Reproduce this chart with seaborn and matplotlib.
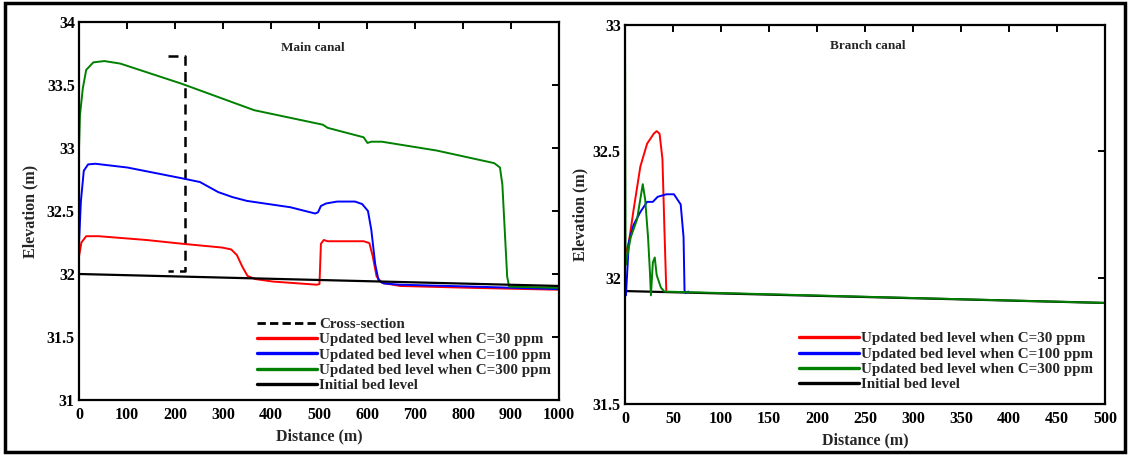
import numpy as np
import pandas as pd
import matplotlib
matplotlib.use("Agg")
import matplotlib.pyplot as plt
from matplotlib.patches import Rectangle
from matplotlib.lines import Line2D
import seaborn as sns

# ---------------- data: main canal ----------------
main_bed_x = [0, 1000]
main_bed_y = [32.0, 31.905]

main_c30_x = [0, 5, 15, 41, 140, 215, 298, 317, 329, 340, 351, 367, 404, 495, 501, 504, 510, 518,
              593, 605, 612, 620, 631, 669, 820, 1000]
main_c30_y = [32.14, 32.25, 32.30, 32.30, 32.27, 32.24, 32.21, 32.195, 32.15, 32.06, 31.985, 31.96,
              31.94, 31.915, 31.92, 32.24, 32.27, 32.26, 32.26, 32.245, 32.14, 31.98, 31.93, 31.905,
              31.89, 31.875]

main_c100_x = [0, 4, 10, 19, 34, 101, 214, 252, 290, 320, 350, 440, 492, 498, 504, 515, 538, 575,
               590, 602, 609, 617, 624, 635, 669, 820, 1000]
main_c100_y = [32.25, 32.58, 32.82, 32.87, 32.875, 32.845, 32.76, 32.73, 32.65, 32.61, 32.58, 32.53,
               32.48, 32.49, 32.54, 32.56, 32.575, 32.575, 32.555, 32.50, 32.35, 32.08, 31.95,
               31.925, 31.915, 31.90, 31.88]

main_c300_x = [0, 2, 8, 15, 30, 53, 86, 214, 365, 508, 518, 593, 601, 609, 631, 745, 865, 877, 882,
               887, 892, 896, 1000]
main_c300_y = [33.0, 33.26, 33.475, 33.62, 33.68, 33.69, 33.67, 33.51, 33.30, 33.185, 33.16, 33.085,
               33.04, 33.05, 33.05, 32.98, 32.88, 32.845, 32.71, 32.345, 31.98, 31.90, 31.89]

cross_x = [185, 220, 220, 185]
cross_y = [33.73, 33.73, 32.02, 32.02]

# ---------------- data: branch canal ----------------
br_bed_x = [0, 500]
br_bed_y = [31.947, 31.90]

br_c30_x = [1, 4, 9, 16, 23, 30, 33, 36, 39, 41, 43]
br_c30_y = [32.10, 32.14, 32.27, 32.44, 32.53, 32.57, 32.58, 32.57, 32.47, 32.20, 31.95]

br_c100_x = [0.5, 1, 4, 9, 16, 23, 29, 34, 43, 51, 58, 61, 62, 63, 66]
br_c100_y = [31.93, 31.93, 32.14, 32.21, 32.26, 32.30, 32.30, 32.32, 32.33, 32.33, 32.29, 32.16,
             31.95, 31.94, 31.945]

br_c300_x = [0, 0.6, 2.5, 6, 12.5, 18.5, 21, 24, 26, 27, 29, 31, 33, 37.5, 41, 500]
br_c300_y = [33.0, 32.05, 32.09, 32.16, 32.23, 32.37, 32.31, 32.16, 32.02, 31.93, 32.06, 32.08,
             32.01, 31.96, 31.945, 31.90]

labels = ["Cross-section", "Updated bed level when C=30 ppm", "Updated bed level when C=100 ppm",
          "Updated bed level when C=300 ppm", "Initial bed level"]

# ---------------- style ----------------
sns.set_theme(style="white")
plt.rcParams["font.family"] = ["Liberation Serif", "DejaVu Serif"]
plt.rcParams["font.weight"] = "bold"
plt.rcParams["axes.labelweight"] = "bold"

RED, BLUE, GREEN, BLACK = "#ff0000", "#0000ff", "#008000", "#000000"

fig = plt.figure(figsize=(11.3, 4.55), dpi=100)
fig.patch.set_facecolor("white")
ax1 = fig.add_axes([79 / 1130, 1 - 400 / 455, 480 / 1130, 378 / 455])
ax2 = fig.add_axes([625 / 1130, 1 - 404 / 455, 480 / 1130, 379 / 455])


def draw(ax, x, y, color, label, lw=1.4, ls="-", z=2):
    df = pd.DataFrame({"x": x, "y": y})
    sns.lineplot(data=df, x="x", y="y", ax=ax, color=color, lw=lw, ls=ls, sort=False,
                 estimator=None, label=label, zorder=z, legend=False)


# main canal
draw(ax1, cross_x, cross_y, BLACK, labels[0], lw=1.8, ls=(0, (4, 2.5)))
draw(ax1, main_c30_x, main_c30_y, RED, labels[1])
draw(ax1, main_c100_x, main_c100_y, BLUE, labels[2])
draw(ax1, main_c300_x, main_c300_y, GREEN, labels[3])
draw(ax1, main_bed_x, main_bed_y, BLACK, labels[4], lw=1.6, z=3)

# branch canal
draw(ax2, br_bed_x, br_bed_y, BLACK, labels[4], lw=1.6, z=1)
draw(ax2, br_c30_x, br_c30_y, RED, labels[1])
draw(ax2, br_c100_x, br_c100_y, BLUE, labels[2])
draw(ax2, br_c300_x, br_c300_y, GREEN, labels[3])

for ax, xmax, xstep, ylo, yhi in [(ax1, 1000, 100, 31, 34), (ax2, 500, 50, 31.5, 33)]:
    ax.set_xlim(0, xmax)
    ax.set_ylim(ylo, yhi)
    ax.set_xticks(np.arange(0, xmax + 1, xstep))
    ax.set_yticks(np.arange(ylo, yhi + 0.01, 0.5))
    ax.set_yticklabels([f"{v:g}" for v in np.arange(ylo, yhi + 0.01, 0.5)])
    ax.tick_params(direction="in", length=5, width=1.4, top=True, right=True,
                   labelsize=11.5, colors="black")
    ax.tick_params(axis="x", pad=5)
    ax.tick_params(axis="y", pad=3)
    for lab in ax.get_xticklabels() + ax.get_yticklabels():
        lab.set_fontweight("bold")
    for s in ax.spines.values():
        s.set_visible(True)
        s.set_color("black")
        s.set_linewidth(1.6)
    ax.set_xlabel("Distance (m)", fontsize=11.5, fontweight="bold", labelpad=4)
    ax.set_facecolor("white")
    ax.grid(False)

ax1.set_ylabel("Elevation (m)", fontsize=11.5, fontweight="bold", labelpad=6)
ax2.set_ylabel("Elevation (m)", fontsize=11.5, fontweight="bold", labelpad=3)

ax1.text(0.488, 0.93, "Main canal", transform=ax1.transAxes, ha="center", va="center",
         fontsize=9.5, fontweight="bold")
ax2.text(0.506, 0.945, "Branch canal", transform=ax2.transAxes, ha="center", va="center",
         fontsize=9.5, fontweight="bold")

# legends
h1 = [Line2D([], [], color=BLACK, lw=2.0, ls=(0, (3, 1.5))),
      Line2D([], [], color=RED, lw=2.4), Line2D([], [], color=BLUE, lw=2.4),
      Line2D([], [], color=GREEN, lw=2.4), Line2D([], [], color=BLACK, lw=2.4)]
leg_kw = dict(loc="upper left", frameon=False, fontsize=10.8, handlelength=4.0,
              handletextpad=0.15, labelspacing=0.12, borderpad=0, borderaxespad=0)
leg1 = ax1.legend(h1, labels, bbox_to_anchor=(0.37, 0.218), **leg_kw)
for t in leg1.get_texts():
    t.set_fontweight("bold")
leg2 = ax2.legend(h1[1:], labels[1:], bbox_to_anchor=(0.3625, 0.19), **leg_kw)
for t in leg2.get_texts():
    t.set_fontweight("bold")

# outer frame
fig.patches.append(Rectangle((0.004, 0.007), 0.992, 0.986, transform=fig.transFigure,
                             fill=False, edgecolor="black", linewidth=2.5))

fig.savefig("out.png", dpi=100, facecolor="white")
